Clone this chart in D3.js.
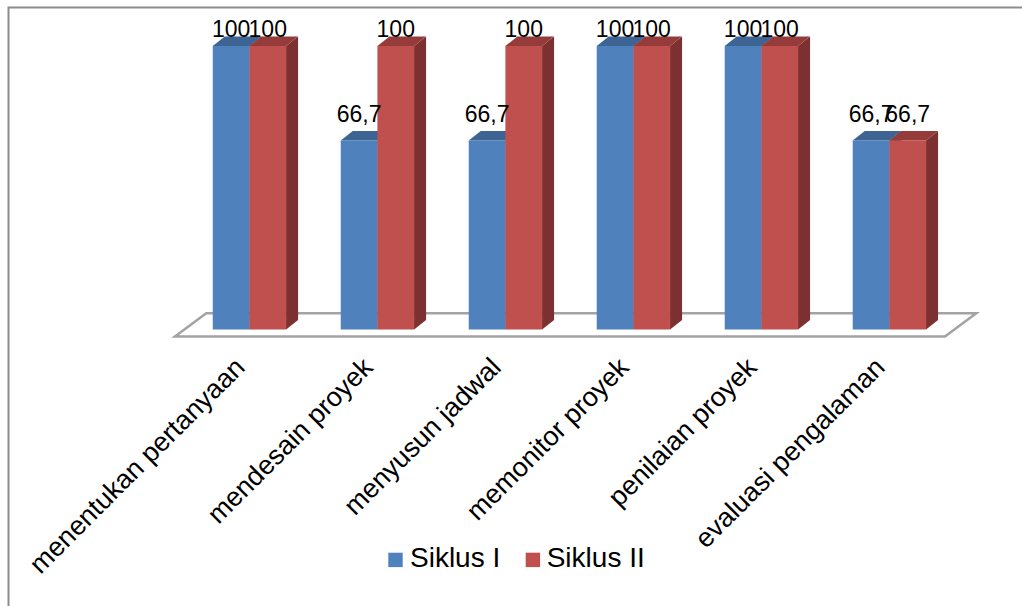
<!DOCTYPE html>
<html><head><meta charset="utf-8">
<script src="https://cdn.jsdelivr.net/npm/d3@7"></script>
<style>html,body{margin:0;padding:0;background:#fff;}svg{display:block;}</style>
</head><body>
<svg id="c" width="1022" height="606"></svg>
<script>
const categories = ["menentukan pertanyaan","mendesain proyek","menyusun jadwal","memonitor proyek","penilaian proyek","evaluasi pengalaman"];
const seriesNames = ["Siklus I","Siklus II"];
const siklus1 = [100,66.7,66.7,100,100,66.7];
const siklus2 = [100,100,100,100,100,66.7];
const labels1 = ["100","66,7","66,7","100","100","66,7"];
const labels2 = ["100","100","100","100","100","66,7"];

const svg = d3.select("#c");
const W = 1022, H = 606;

// outer frame
svg.append("path").attr("d", `M8.5,${H+5} L8.5,7.5 L${W+5},7.5`)
  .attr("fill","none").attr("stroke","#8c8c8c").attr("stroke-width",2);

const x = d3.scaleBand().domain(categories).range([184.4, 954.4]).paddingInner(0.427).paddingOuter(0.2215);
const y = d3.scaleLinear().domain([0,100]).range([329.5, 46]);
const xs = d3.scaleBand().domain(seriesNames).range([0, x.bandwidth()]);

const DX = 12, DY = -9.5;
// floor
const r0 = x.range()[0], r1 = x.range()[1], by = y(0);
const fdx = 31/23;
const floorPts = [
  [r0 - 7*fdx, by + 7], [r1 - 7*fdx, by + 7],
  [r1 + 16.2*fdx, by - 16.2], [r0 + 16.2*fdx, by - 16.2]
];
svg.append("polygon").attr("points", floorPts.map(p=>p.join(",")).join(" "))
  .attr("fill","#fff").attr("stroke","#a3a3a3").attr("stroke-width",2.5).attr("stroke-linejoin","miter");

const colors = {
  "Siklus I": {front:"#4F81BD", top:"#3d6493", side:"#385d8a"},
  "Siklus II": {front:"#C0504D", top:"#953b39", side:"#7c302f"}
};
const series = [
  {name:"Siklus I", values:siklus1, labels:labels1},
  {name:"Siklus II", values:siklus2, labels:labels2}
];

const g = svg.append("g");
categories.forEach((cat, i) => {
  series.forEach(s => {
    const v = s.values[i];
    const x0 = x(cat) + xs(s.name), w = xs.bandwidth();
    const yt = y(v), yb = y(0);
    const c = colors[s.name];
    g.append("polygon").attr("points", [[x0+w,yt],[x0+w+DX,yt+DY],[x0+w+DX,yb+DY],[x0+w,yb]].map(p=>p.join(",")).join(" "))
      .attr("fill", c.side);
    g.append("polygon").attr("points", [[x0,yt],[x0+DX,yt+DY],[x0+w+DX,yt+DY],[x0+w,yt]].map(p=>p.join(",")).join(" "))
      .attr("fill", c.top);
    g.append("rect").attr("x", x0).attr("y", yt).attr("width", w).attr("height", yb-yt).attr("fill", c.front);
  });
});
// data labels
categories.forEach((cat, i) => {
  series.forEach(s => {
    const v = s.values[i];
    const cx = x(cat) + xs(s.name) + xs.bandwidth()/2;
    const ly = Math.max(y(v) + DY - 9.3, 37);
    svg.append("text").attr("x", cx).attr("y", ly).attr("text-anchor","middle")
      .attr("font-family","Liberation Sans, Arial, sans-serif").attr("font-size",23).attr("fill","#000")
      .text(s.labels[i]);
  });
});

// x labels
categories.forEach(cat => {
  const ax = x(cat) + x.bandwidth()/2 - 3, ay = 369;
  svg.append("text").attr("transform", `translate(${ax},${ay}) rotate(-45)`)
    .attr("text-anchor","end").attr("font-family","Liberation Sans, Arial, sans-serif")
    .attr("font-size",27).attr("fill","#000").text(cat);
});

// legend
const leg = [{name:"Siklus I", sx:388.3, tx:410},{name:"Siklus II", sx:525.7, tx:546.7}];
leg.forEach(l => {
  svg.append("rect").attr("x", l.sx).attr("y", 552.7).attr("width", 14.4).attr("height", 14.4).attr("fill", colors[l.name].front);
  svg.append("text").attr("x", l.tx).attr("y", 567.3).attr("font-family","Liberation Sans, Arial, sans-serif")
    .attr("font-size",28).attr("fill","#000").text(l.name);
});
</script>
</body></html>
